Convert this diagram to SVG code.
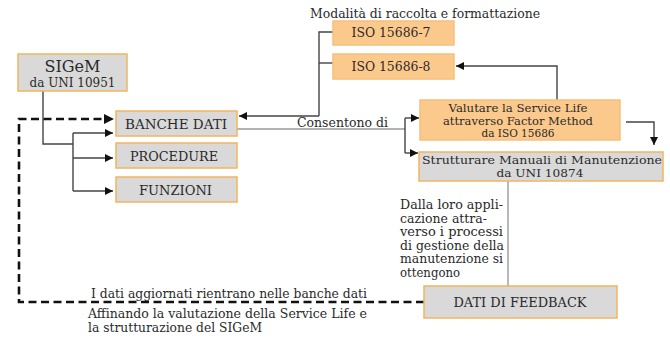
<svg xmlns="http://www.w3.org/2000/svg" width="670" height="338" viewBox="0 0 670 338">
<defs>
<style>
.bg{fill:#ffffff}
.og{fill:#fcc98c;stroke:#f5c07e;stroke-width:1.5}
.gr{fill:#d9d9d9;stroke:#f3b45e;stroke-width:1.5}
.t{font-family:"DejaVu Serif","Liberation Serif",serif;font-size:12.5px;fill:#2a2a2a}
.s{font-size:11.5px}
.c{text-anchor:middle}
.ln{fill:none;stroke:#444;stroke-width:1.4}
.lg{fill:none;stroke:#9a9a9a;stroke-width:1.4}
.dash{fill:none;stroke:#111;stroke-width:2.6;stroke-dasharray:8,4.5}
</style>
<marker id="ah" viewBox="0 0 10 10" refX="10" refY="5" markerWidth="9" markerHeight="8" markerUnits="userSpaceOnUse" orient="auto">
<path d="M0,0 L10,5 L0,10 z" fill="#111"/>
</marker>
</defs>
<rect class="bg" x="0" y="0" width="670" height="338"/>

<g id="connectors">
<path class="ln" d="M43,91 V144 H73"/>
<path class="ln" d="M73,133 V191"/>
<path class="ln" d="M73,133 H113" marker-end="url(#ah)"/>
<path class="ln" d="M73,158 H113" marker-end="url(#ah)"/>
<path class="ln" d="M73,191 H113" marker-end="url(#ah)"/>
<path class="ln" d="M333,32 H319 V116"/>
<path class="ln" d="M333,63 H319"/>
<path class="ln" d="M319,116 H239" marker-end="url(#ah)"/>
<path class="lg" d="M237,129 H405"/>
<path class="ln" d="M405,118 V153"/>
<path class="ln" d="M405,118 H419" marker-end="url(#ah)"/>
<path class="ln" d="M405,153 H418" marker-end="url(#ah)"/>
<path class="ln" d="M557,100 V66 H456" marker-end="url(#ah)"/>
<path class="ln" d="M626,122 H654 V145" marker-end="url(#ah)"/>
<path class="lg" d="M508,181 V286"/>
<path class="dash" d="M424,302 H19 V119 H106"/>
<path d="M104,114 L114,119 L104,124 z" fill="#111"/>
</g>

<g id="sigem">
<rect class="gr" x="18" y="54" width="109" height="37"/>
<text class="t c" x="72.5" y="72" style="font-size:16px" textLength="56" lengthAdjust="spacingAndGlyphs">SIGeM</text>
<text class="t c" x="72.5" y="86.5" textLength="86" lengthAdjust="spacingAndGlyphs">da UNI 10951</text>
</g>

<g id="banche">
<rect class="gr" x="116" y="111" width="121" height="25"/>
<text class="t c" x="176" y="128.5" textLength="102" lengthAdjust="spacingAndGlyphs">BANCHE DATI</text>
</g>

<g id="procedure">
<rect class="gr" x="116" y="143" width="121" height="25"/>
<text class="t c" x="174" y="161" textLength="88" lengthAdjust="spacingAndGlyphs">PROCEDURE</text>
</g>

<g id="funzioni">
<rect class="gr" x="116" y="177" width="121" height="25"/>
<text class="t c" x="175.5" y="195" textLength="73" lengthAdjust="spacingAndGlyphs">FUNZIONI</text>
</g>

<g id="modalita">
<text class="t c" x="425" y="18" textLength="230" lengthAdjust="spacingAndGlyphs">Modalità di raccolta e formattazione</text>
</g>

<g id="iso7">
<rect class="og" x="333" y="21" width="121" height="24"/>
<text class="t c" x="391" y="37" textLength="79" lengthAdjust="spacingAndGlyphs">ISO 15686-7</text>
</g>

<g id="iso8">
<rect class="og" x="333" y="54" width="121" height="25"/>
<text class="t c" x="391" y="70.5" textLength="79" lengthAdjust="spacingAndGlyphs">ISO 15686-8</text>
</g>

<g id="consentono">
<text class="t" x="297" y="127" textLength="91" lengthAdjust="spacingAndGlyphs">Consentono di</text>
</g>

<g id="valutare">
<rect class="og" x="420" y="100" width="200" height="40"/>
<text class="t s c" x="518" y="112" textLength="139" lengthAdjust="spacingAndGlyphs">Valutare la Service Life</text>
<text class="t s c" x="518" y="124.5" textLength="150" lengthAdjust="spacingAndGlyphs">attraverso Factor Method</text>
<text class="t s c" x="518" y="137" textLength="73" lengthAdjust="spacingAndGlyphs">da ISO 15686</text>
</g>

<g id="strutturare">
<rect class="gr" x="419" y="152" width="244" height="29"/>
<text class="t s c" x="542" y="164" textLength="240" lengthAdjust="spacingAndGlyphs">Strutturare Manuali di Manutenzione</text>
<text class="t s c" x="540" y="176.5" textLength="87" lengthAdjust="spacingAndGlyphs">da UNI 10874</text>
</g>

<g id="dalla">
<text class="t" x="400" y="209" textLength="103" lengthAdjust="spacingAndGlyphs">Dalla loro appli-</text>
<text class="t" x="400" y="222.5" textLength="87" lengthAdjust="spacingAndGlyphs">cazione attra-</text>
<text class="t" x="400" y="236" textLength="103" lengthAdjust="spacingAndGlyphs">verso i processi</text>
<text class="t" x="400" y="249.5" textLength="104" lengthAdjust="spacingAndGlyphs">di gestione della</text>
<text class="t" x="400" y="263" textLength="103" lengthAdjust="spacingAndGlyphs">manutenzione si</text>
<text class="t" x="400" y="276.5" textLength="60" lengthAdjust="spacingAndGlyphs">ottengono</text>
</g>

<g id="feedback">
<rect class="gr" x="424" y="286" width="193" height="32"/>
<text class="t c" x="520" y="307" textLength="133" lengthAdjust="spacingAndGlyphs">DATI DI FEEDBACK</text>
</g>

<g id="labels-loop">
<text class="t" x="91" y="297.5" textLength="276" lengthAdjust="spacingAndGlyphs">I dati aggiornati rientrano nelle banche dati</text>
<text class="t" x="88" y="318" textLength="279" lengthAdjust="spacingAndGlyphs">Affinando la valutazione della Service Life e</text>
<text class="t" x="88" y="332" textLength="174" lengthAdjust="spacingAndGlyphs">la strutturazione del SIGeM</text>
</g>
</svg>
